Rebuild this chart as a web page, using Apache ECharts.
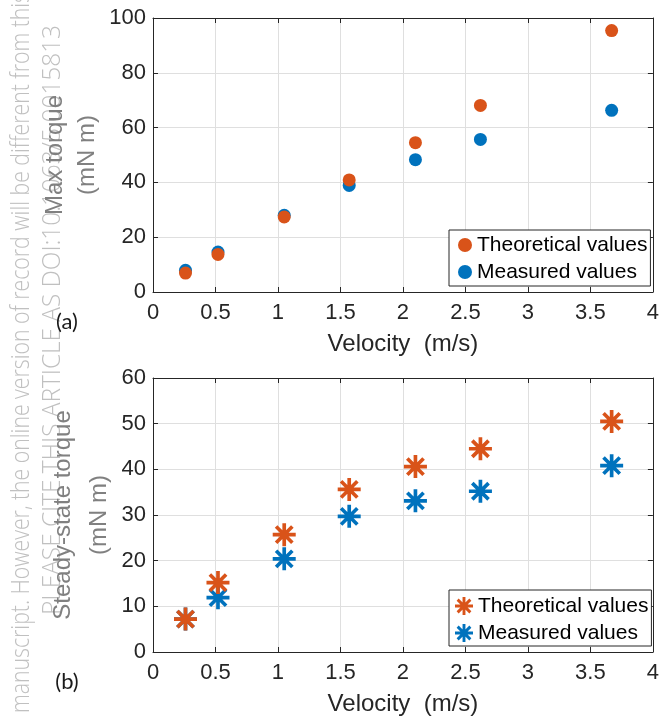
<!DOCTYPE html>
<html>
<head>
<meta charset="utf-8">
<script src="https://cdn.jsdelivr.net/npm/echarts@6/dist/echarts.min.js"></script>
<style>
html,body{margin:0;padding:0;background:#fff;}
#chart{width:662px;height:723px;}
</style>
</head>
<body>
<div id="chart"></div>
<script>
// ---- data ----
const velocity = [0.26, 0.52, 1.05, 1.57, 2.1, 2.62, 3.67];
const maxTorqueTheoretical = [6.9, 13.7, 27.4, 40.9, 54.5, 68.1, 95.4];
const maxTorqueMeasured = [7.9, 14.6, 28.0, 38.9, 48.3, 55.7, 66.3];
const steadyTorqueTheoretical = [7.2, 15.2, 25.7, 35.6, 40.6, 44.5, 50.5];
const steadyTorqueMeasured = [7.2, 11.9, 20.4, 29.7, 33.1, 35.2, 40.8];
const seriesNames = ['Theoretical values', 'Measured values'];
const xAxisTitle = 'Velocity  (m/s)';
const yAxisTitleTop = 'Max torque\n(mN m)';
const yAxisTitleBottom = 'Steady-state torque\n(mN m)';
const panelLabels = ['(a)', '(b)'];
const watermark1 = 'manuscript. However, the online version of record will be different from this';
const watermark2 = 'PLEASE CITE THIS ARTICLE AS DOI:10.1063/5.0015813';

// ---- styles ----
const ORANGE = '#D95319', BLUE = '#0072BD', AX = '#262626';
const FONT = 'Liberation Sans';

// asterisk symbol: union of 4 rotated bars
function asteriskPath(w) {
  let p = '';
  for (let k = 0; k < 4; k++) {
    const a = k * Math.PI / 4, c = Math.cos(a), s = Math.sin(a);
    const pts = [[-1, -w], [1, -w], [1, w], [-1, w]].map(([x, y]) => [x * c - y * s, x * s + y * c]);
    p += 'M' + pts.map(q => q[0].toFixed(4) + ' ' + q[1].toFixed(4)).join(' L') + ' Z ';
  }
  return 'path://' + p;
}
const ASTER = asteriskPath(0.16);

const pairs = (xs, ys) => xs.map((x, i) => [x, ys[i]]);

function xAxes(gi) {
  return [{
    gridIndex: gi, type: 'value', min: 0, max: 4, interval: 0.5, position: 'bottom',
    axisLine: { show: true, onZero: false, lineStyle: { color: AX, width: 1 } },
    axisTick: { show: true, inside: true, length: 5, lineStyle: { color: AX } },
    axisLabel: { fontSize: 22, color: AX, margin: 10, fontFamily: FONT },
    splitLine: { show: true, lineStyle: { color: '#dfdfdf', width: 1 } },
    name: xAxisTitle, nameLocation: 'middle', nameGap: 40, nameMoveOverlap: false,
    nameTextStyle: { fontSize: 24, color: AX, fontFamily: FONT }
  }, {
    gridIndex: gi, type: 'value', min: 0, max: 4, interval: 0.5, position: 'top',
    axisLine: { show: true, onZero: false, lineStyle: { color: AX, width: 1 } },
    axisTick: { show: true, inside: true, length: 5, lineStyle: { color: AX } },
    axisLabel: { show: false }, splitLine: { show: false }
  }];
}
function yAxes(gi, max, interval, name, lh, gap) {
  return [{
    gridIndex: gi, type: 'value', min: 0, max: max, interval: interval, position: 'left',
    axisLine: { show: true, onZero: false, lineStyle: { color: AX, width: 1 } },
    axisTick: { show: true, inside: true, length: 5, lineStyle: { color: AX } },
    axisLabel: { fontSize: 22, color: AX, margin: 7, fontFamily: FONT },
    splitLine: { show: true, lineStyle: { color: '#dfdfdf', width: 1 } },
    name: name, nameLocation: 'middle', nameRotate: 90, nameGap: gap, nameMoveOverlap: false,
    nameTextStyle: { fontSize: 24, color: '#808080', fontFamily: FONT, lineHeight: lh }
  }, {
    gridIndex: gi, type: 'value', min: 0, max: max, interval: interval, position: 'right',
    axisLine: { show: true, onZero: false, lineStyle: { color: AX, width: 1 } },
    axisTick: { show: true, inside: true, length: 5, lineStyle: { color: AX } },
    axisLabel: { show: false }, splitLine: { show: false }
  }];
}

// watermark scaling to measured length
const mctx = document.createElement('canvas').getContext('2d');
function fitScale(text, font, len) { mctx.font = font; return len / mctx.measureText(text).width; }
const WM_FONT = '300 26px "Open Sans"';

function legendCfg(top, icon, iw, ih, pad, styleFn) {
  return {
    orient: 'vertical', left: 449, top: top, itemWidth: iw, itemHeight: ih, itemGap: 3,
    padding: pad, backgroundColor: '#fff', borderColor: AX, borderWidth: 1,
    textStyle: { fontSize: 21, color: '#000', fontFamily: FONT, lineHeight: 24 },
    data: seriesNames.map((n, i) => ({ name: n, icon: icon, itemStyle: styleFn(i) }))
  };
}

const option = {
  animation: false,
  backgroundColor: '#fff',
  grid: [
    { left: 153, top: 18, width: 504, height: 274 },
    { left: 153, top: 378, width: 504, height: 274 }
  ],
  xAxis: [...xAxes(0), ...xAxes(1)],
  yAxis: [...yAxes(0, 100, 20, yAxisTitleTop, 32, 50), ...yAxes(1, 60, 10, yAxisTitleBottom, 36, 36)],
  legend: [
    legendCfg(230, 'circle', 14, 14, [3, 3, 2, 9], i => ({ color: i === 0 ? ORANGE : BLUE, borderWidth: 0 })),
    legendCfg(590, ASTER, 18, 18, [4, 3, 1, 6], i => ({ color: i === 0 ? ORANGE : BLUE, borderWidth: 0 }))
  ],
  series: [
    { type: 'scatter', name: seriesNames[1], xAxisIndex: 0, yAxisIndex: 0, data: pairs(velocity, maxTorqueMeasured),
      symbol: 'circle', symbolSize: 13, itemStyle: { color: BLUE, opacity: 1 } },
    { type: 'scatter', name: seriesNames[0], xAxisIndex: 0, yAxisIndex: 0, data: pairs(velocity, maxTorqueTheoretical),
      symbol: 'circle', symbolSize: 13, itemStyle: { color: ORANGE, opacity: 1 } },
    { type: 'scatter', name: seriesNames[1], xAxisIndex: 2, yAxisIndex: 2, data: pairs(velocity, steadyTorqueMeasured),
      symbol: ASTER, symbolSize: 23, itemStyle: { color: BLUE, opacity: 1 } },
    { type: 'scatter', name: seriesNames[0], xAxisIndex: 2, yAxisIndex: 2, data: pairs(velocity, steadyTorqueTheoretical),
      symbol: ASTER, symbolSize: 23, itemStyle: { color: ORANGE, opacity: 1 } }
  ],
  graphic: [
    { type: 'text', x: 22, y: 713, rotation: Math.PI / 2, scaleX: fitScale(watermark1, WM_FONT, 720), z: -10,
      style: { text: watermark1, fill: '#c0c0c0', fontSize: 26, fontWeight: 300, fontFamily: 'Open Sans', align: 'left', verticalAlign: 'middle' } },
    { type: 'text', x: 53, y: 615, rotation: Math.PI / 2, scaleX: fitScale(watermark2, WM_FONT, 590), z: -10,
      style: { text: watermark2, fill: '#c0c0c0', fontSize: 26, fontWeight: 300, fontFamily: 'Open Sans', align: 'left', verticalAlign: 'middle' } },
    { type: 'text', x: 67, y: 322, z: 10,
      style: { text: panelLabels[0], fill: '#1a1a1a', fontSize: 22, fontFamily: 'Lato', align: 'center', verticalAlign: 'middle' } },
    { type: 'text', x: 67, y: 682, z: 10,
      style: { text: panelLabels[1], fill: '#1a1a1a', fontSize: 22, fontFamily: 'Lato', align: 'center', verticalAlign: 'middle' } }
  ]
};

const chart = echarts.init(document.getElementById('chart'), null, { renderer: 'canvas' });
chart.setOption(option);
</script>
</body>
</html>
